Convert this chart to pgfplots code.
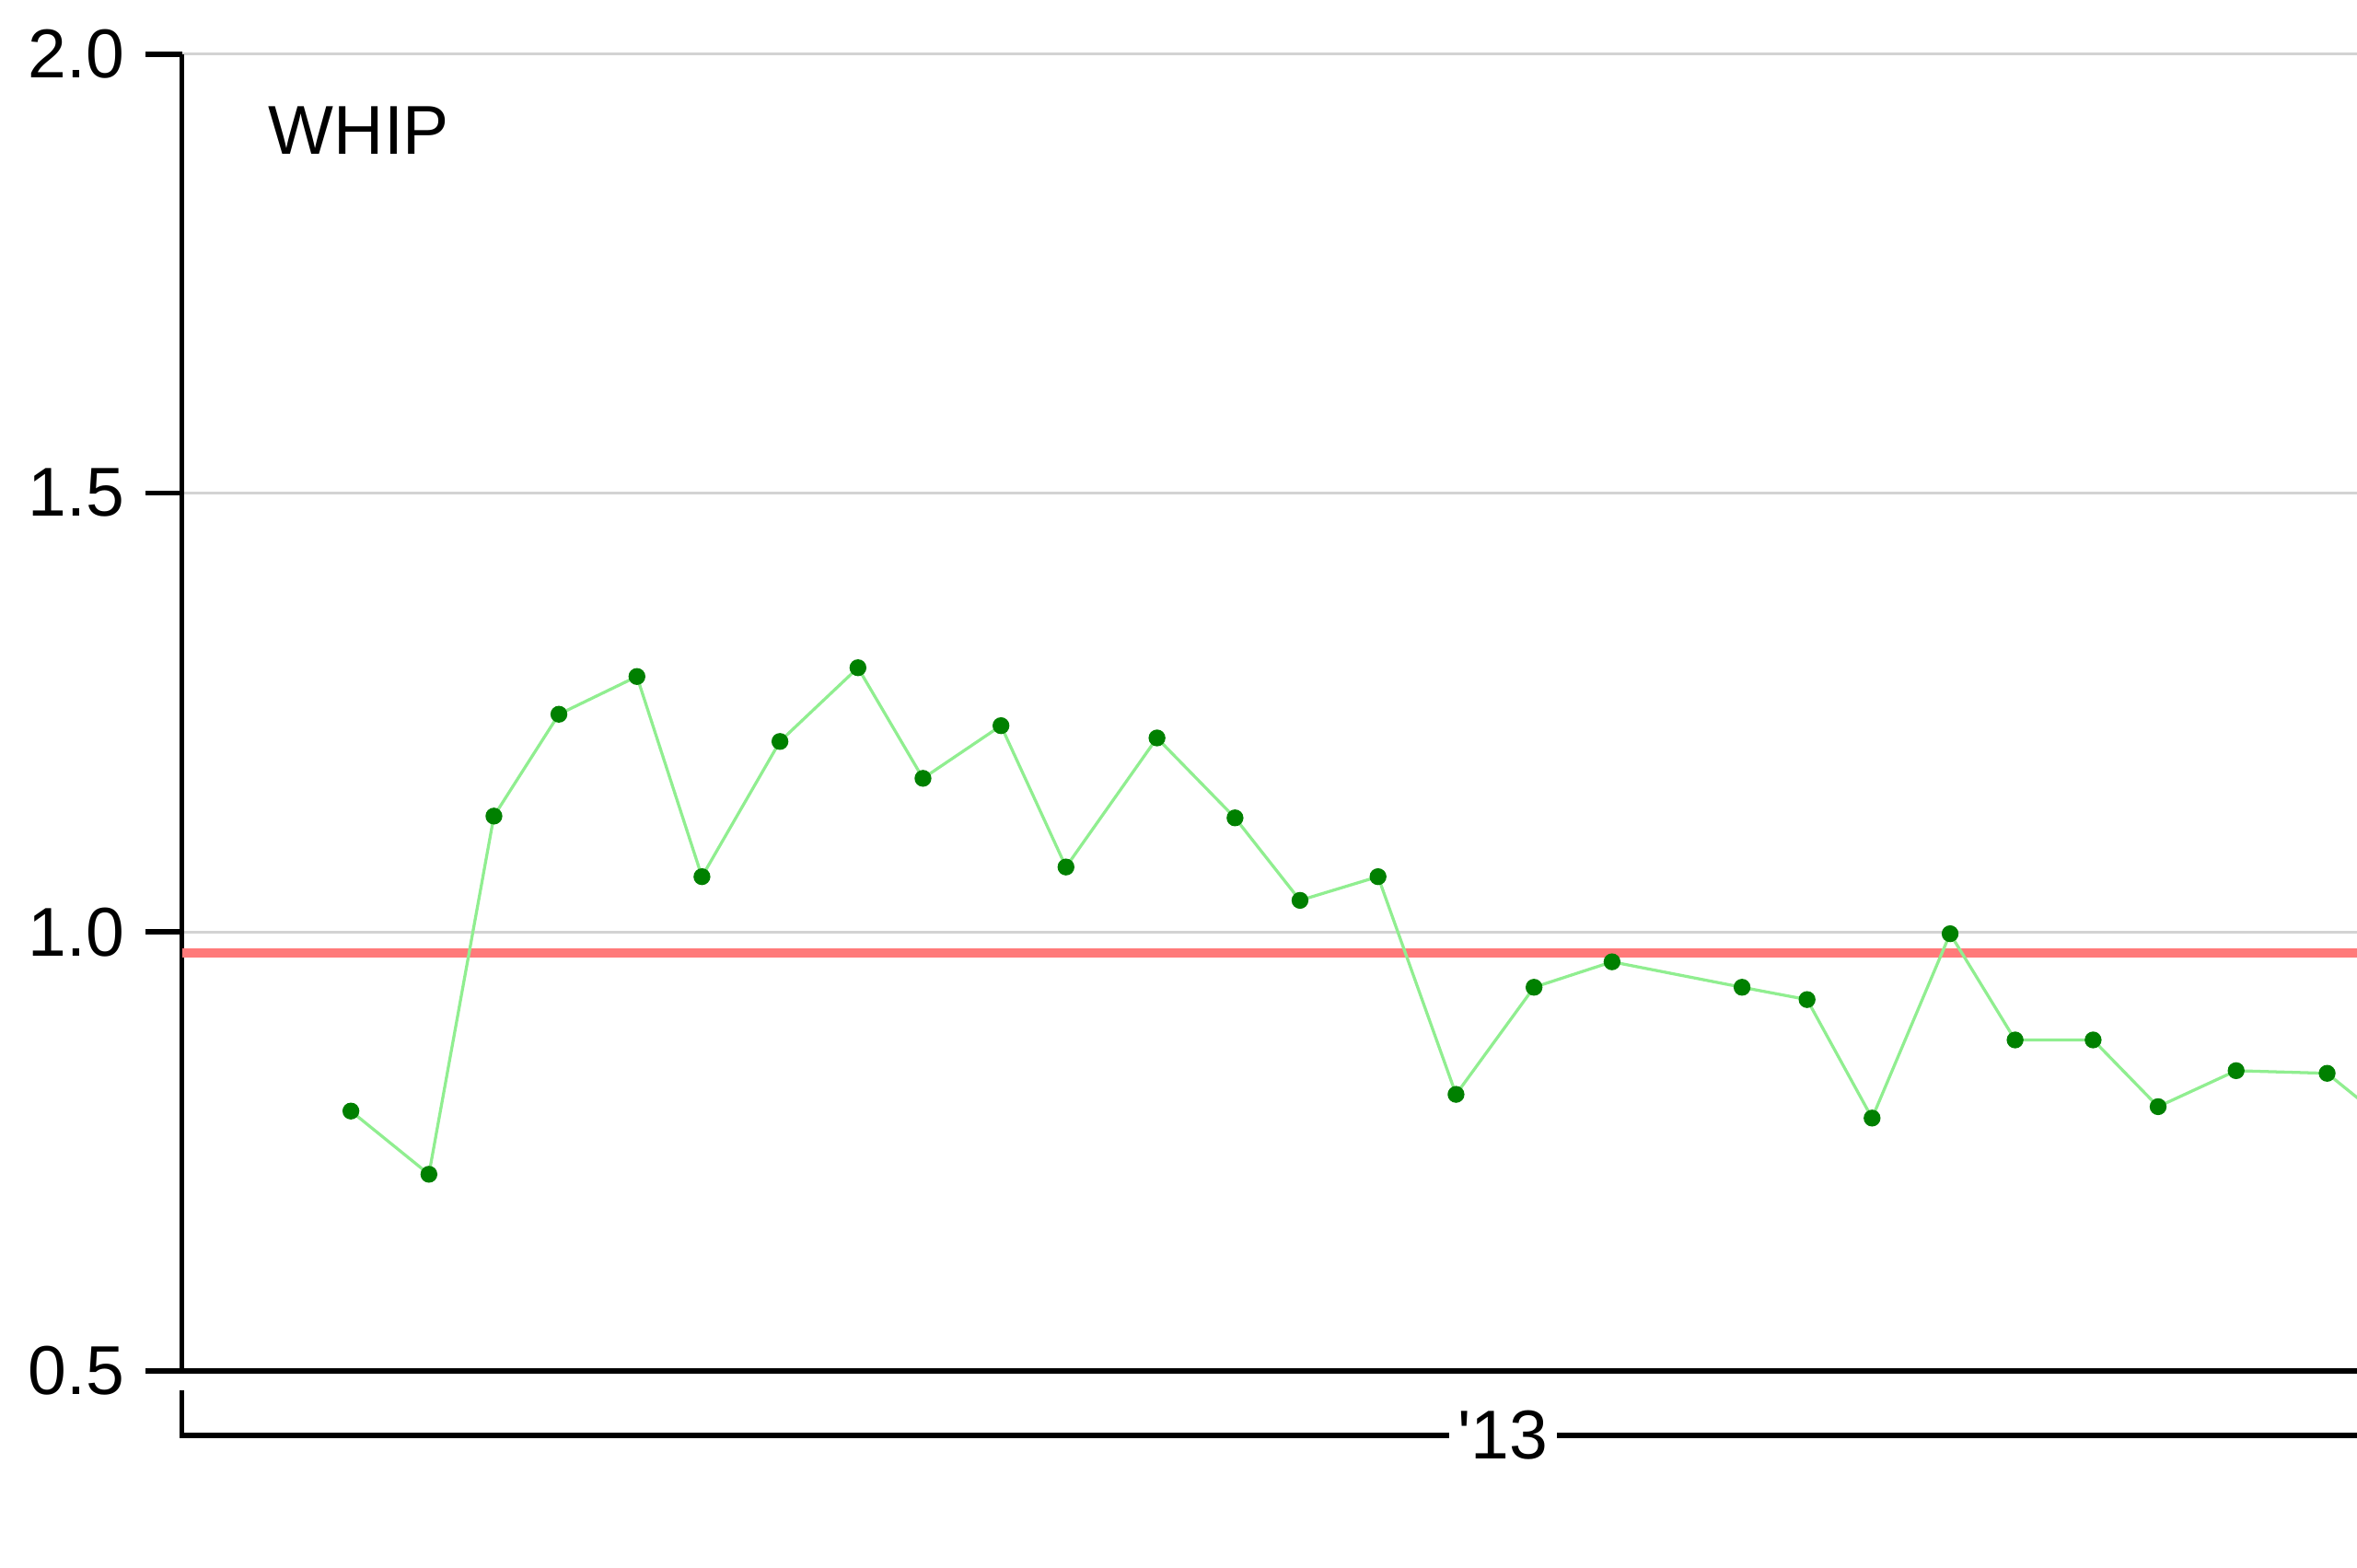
\documentclass[border=0pt]{standalone}
\usepackage{pgfplots}
\pgfplotsset{compat=1.18}
\usepackage{fontspec}
\setmainfont{Liberation Sans}

\definecolor{gridgray}{HTML}{D3D3D3}
\definecolor{refred}{HTML}{FF7A7A}
\definecolor{linegreen}{HTML}{90EE90}
\definecolor{markgreen}{HTML}{008000}

\begin{document}
\begin{tikzpicture}
  \begin{axis}[
    name=main,
    scale only axis,
    width=361.75pt, height=219pt,
    xmin=0, xmax=167.3,
    ymin=0.5, ymax=2.0,
    axis x line*=bottom,
    axis y line*=left,
    axis line style={-, line width=0.9pt, black},
    xtick=\empty,
    ytick={0.5,1.0,1.5,2.0},
    yticklabel style={/pgf/number format/fixed, /pgf/number format/precision=1,
      /pgf/number format/fixed zerofill, font=\fontsize{11.5}{13}\selectfont},
    /pgf/number format/assume math mode=true,
    tick align=outside,
    major tick length=6pt,
    tick style={line width=0.9pt, black},
    ymajorgrids,
    grid style={gridgray, line width=0.5pt},
    clip mode=individual,
  ]
    % season average
    \addplot[refred, line width=1.5pt] coordinates {(0,0.976) (167.3,0.976)};
    % WHIP by game
    \addplot[linegreen, line width=0.5pt, mark=*, mark size=1.15pt,
      mark options={fill=markgreen, draw=markgreen}] coordinates {
      (13,0.796) (19,0.724) (24,1.132) (29,1.248) (35,1.291) (40,1.063)
      (46,1.217) (52,1.301) (57,1.175) (63,1.235) (68,1.074) (75,1.221)
      (81,1.130) (86,1.036) (92,1.063) (98,0.815) (104,0.937) (110,0.966)
      (120,0.937) (125,0.923) (130,0.788) (136,0.998) (141,0.877) (147,0.877)
      (152,0.801) (158,0.842) (165,0.839) (171,0.767)
    };
    \node[anchor=north west, inner sep=0pt, font=\fontsize{11.5}{13}\selectfont]
      at ([shift={(14.25pt,-8.5pt)}]rel axis cs:0,1) {WHIP};
    % year bracket
    \draw[line width=0.9pt, black] (axis cs:0,0.4777) -- (axis cs:0,0.4264) -- (axis cs:167.3,0.4264);
    \node[fill=white, inner xsep=1.5pt, inner ysep=0pt, font=\fontsize{11.5}{13}\selectfont]
      at (axis cs:101.6,0.4264) {\textquotesingle 13};
  \end{axis}
  \pgfresetboundingbox
  \path[use as bounding box] ([shift={(-30.25pt,-32.75pt)}]main.south west)
    rectangle ([shift={(0pt,9pt)}]main.north east);
\end{tikzpicture}
\end{document}
